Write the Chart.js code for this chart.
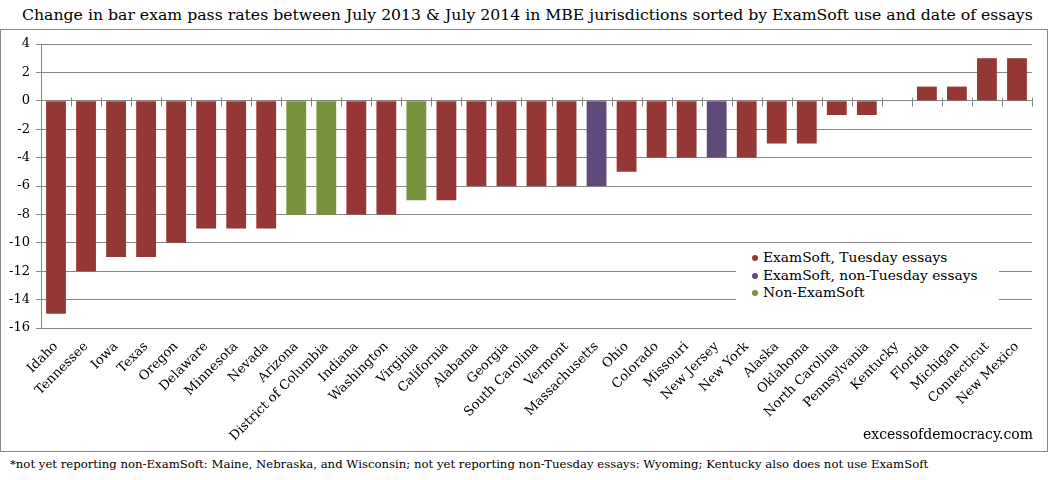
<!DOCTYPE html>
<html>
<head>
<meta charset="utf-8">
<script src="https://cdn.jsdelivr.net/npm/chart.js@4.4.1/dist/chart.umd.min.js"></script>
<style>
  body { margin:0; background:#fff; font-family:"DejaVu Serif", serif; color:#000; }
  #wrap { position:relative; width:1049px; height:480px; overflow:hidden; }
  #title { position:absolute; left:22px; top:5px; font-size:15.7px; white-space:nowrap; }
  #box { position:absolute; left:0; top:29px; width:1048px; height:423px; box-sizing:border-box; border:1px solid #868686; }
  #chart { position:absolute; left:0; top:0; }
  #legend { position:absolute; left:735px; top:217px; width:263px; height:57px; background:#fff; padding-top:2px; box-sizing:border-box; font-size:13.8px; }
  #legend div { height:17.5px; line-height:17.5px; position:relative; padding-left:27px; white-space:nowrap; }
  #legend span { position:absolute; left:16px; top:6px; width:6px; height:6px; border-radius:50%; }
  #site { position:absolute; right:14px; top:396px; font-size:14px; }
  #note { position:absolute; left:10px; top:457px; font-size:11.7px; white-space:nowrap; }
</style>
</head>
<body>
<div id="wrap">
  <div id="title">Change in bar exam pass rates between July 2013 &amp; July 2014 in MBE jurisdictions sorted by ExamSoft use and date of essays</div>
  <div id="box">
    <canvas id="chart" width="1046" height="421"></canvas>
    <div id="legend"></div>
    <div id="site">excessofdemocracy.com</div>
  </div>
  <div id="note">*not yet reporting non-ExamSoft: Maine, Nebraska, and Wisconsin; not yet reporting non-Tuesday essays: Wyoming; Kentucky also does not use ExamSoft</div>
</div>
<script>
// jurisdictions in the order shown
var states = ["Idaho","Tennessee","Iowa","Texas","Oregon","Delaware","Minnesota","Nevada","Arizona",
  "District of Columbia","Indiana","Washington","Virginia","California","Alabama","Georgia","South Carolina",
  "Vermont","Massachusetts","Ohio","Colorado","Missouri","New Jersey","New York","Alaska","Oklahoma",
  "North Carolina","Pennsylvania","Kentucky","Florida","Michigan","Connecticut","New Mexico"];
// change in pass rate, percentage points
var changes = [-15,-12,-11,-11,-10,-9,-9,-9,-8,-8,-8,-8,-7,-7,-6,-6,-6,-6,-6,-5,-4,-4,-4,-4,-3,-3,-1,-1,0,1,1,3,3];
// T = ExamSoft, Tuesday essays; N = ExamSoft, non-Tuesday essays; X = non-ExamSoft
var groups = ["T","T","T","T","T","T","T","T","X","X","T","T","X","T","T","T","T","T","N","T","T","T","N","T","T","T","T","T","T","T","T","T","T"];

var groupKeys = ["T","N","X"];
var groupNames = ["ExamSoft, Tuesday essays","ExamSoft, non-Tuesday essays","Non-ExamSoft"];
var groupColors = ["#953735","#604A7B","#77933C"];

var yTicks = [-16,-14,-12,-10,-8,-6,-4,-2,0,2,4];

var gridColor = "#868686";
var serif = "'DejaVu Serif', serif";

var datasets = groupKeys.map(function(k, i){
  return {
    label: groupNames[i],
    backgroundColor: groupColors[i],
    data: changes.map(function(v, j){ return groups[j] === k ? v : null; }),
    categoryPercentage: 1,
    barPercentage: 0.66
  };
});

// legend as html
var leg = document.getElementById("legend");
groupNames.forEach(function(n, i){
  var d = document.createElement("div");
  d.innerHTML = '<span style="background:' + groupColors[i] + '"></span>' + n;
  leg.appendChild(d);
});

// small tick marks across the zero line, between categories
var zeroTicks = {
  id: "zeroTicks",
  afterDatasetsDraw: function(chart){
    var x = chart.scales.x, y = chart.scales.y, ctx = chart.ctx;
    var y0 = Math.round(y.getPixelForValue(0)) + 0.5;
    ctx.save();
    ctx.strokeStyle = gridColor;
    ctx.lineWidth = 1;
    ctx.beginPath();
    for (var i = 1; i <= states.length; i++) {
      var px = i < states.length ? (x.getPixelForValue(i - 1) + x.getPixelForValue(i)) / 2 : x.right;
      px = Math.round(px) + 0.5;
      ctx.moveTo(px, y0 - 4);
      ctx.lineTo(px, y0 + 5);
    }
    ctx.stroke();
    ctx.restore();
  }
};

new Chart(document.getElementById("chart"), {
  type: "bar",
  data: { labels: states, datasets: datasets },
  options: {
    responsive: false,
    animation: false,
    layout: { padding: { top: 14, right: 15, left: 0, bottom: 0 } },
    plugins: { legend: { display: false }, tooltip: { enabled: false } },
    scales: {
      x: {
        stacked: true,
        grid: { display: false },
        border: { display: false },
        ticks: { color: "#000", font: { family: serif, size: 13 }, minRotation: 45, maxRotation: 45, padding: 3, autoSkip: false },
        afterFit: function(s){ s.height = 123; }
      },
      y: {
        stacked: true,
        min: -16, max: 4,
        afterBuildTicks: function(s){ s.ticks = yTicks.map(function(v){ return { value: v }; }); },
        grid: { color: gridColor, lineWidth: 1, tickLength: 5 },
        border: { display: true, color: gridColor },
        ticks: { color: "#000", font: { family: serif, size: 13 }, padding: 6 },
        afterFit: function(s){ s.width = 40; }
      }
    }
  },
  plugins: [zeroTicks]
});
</script>
</body>
</html>
